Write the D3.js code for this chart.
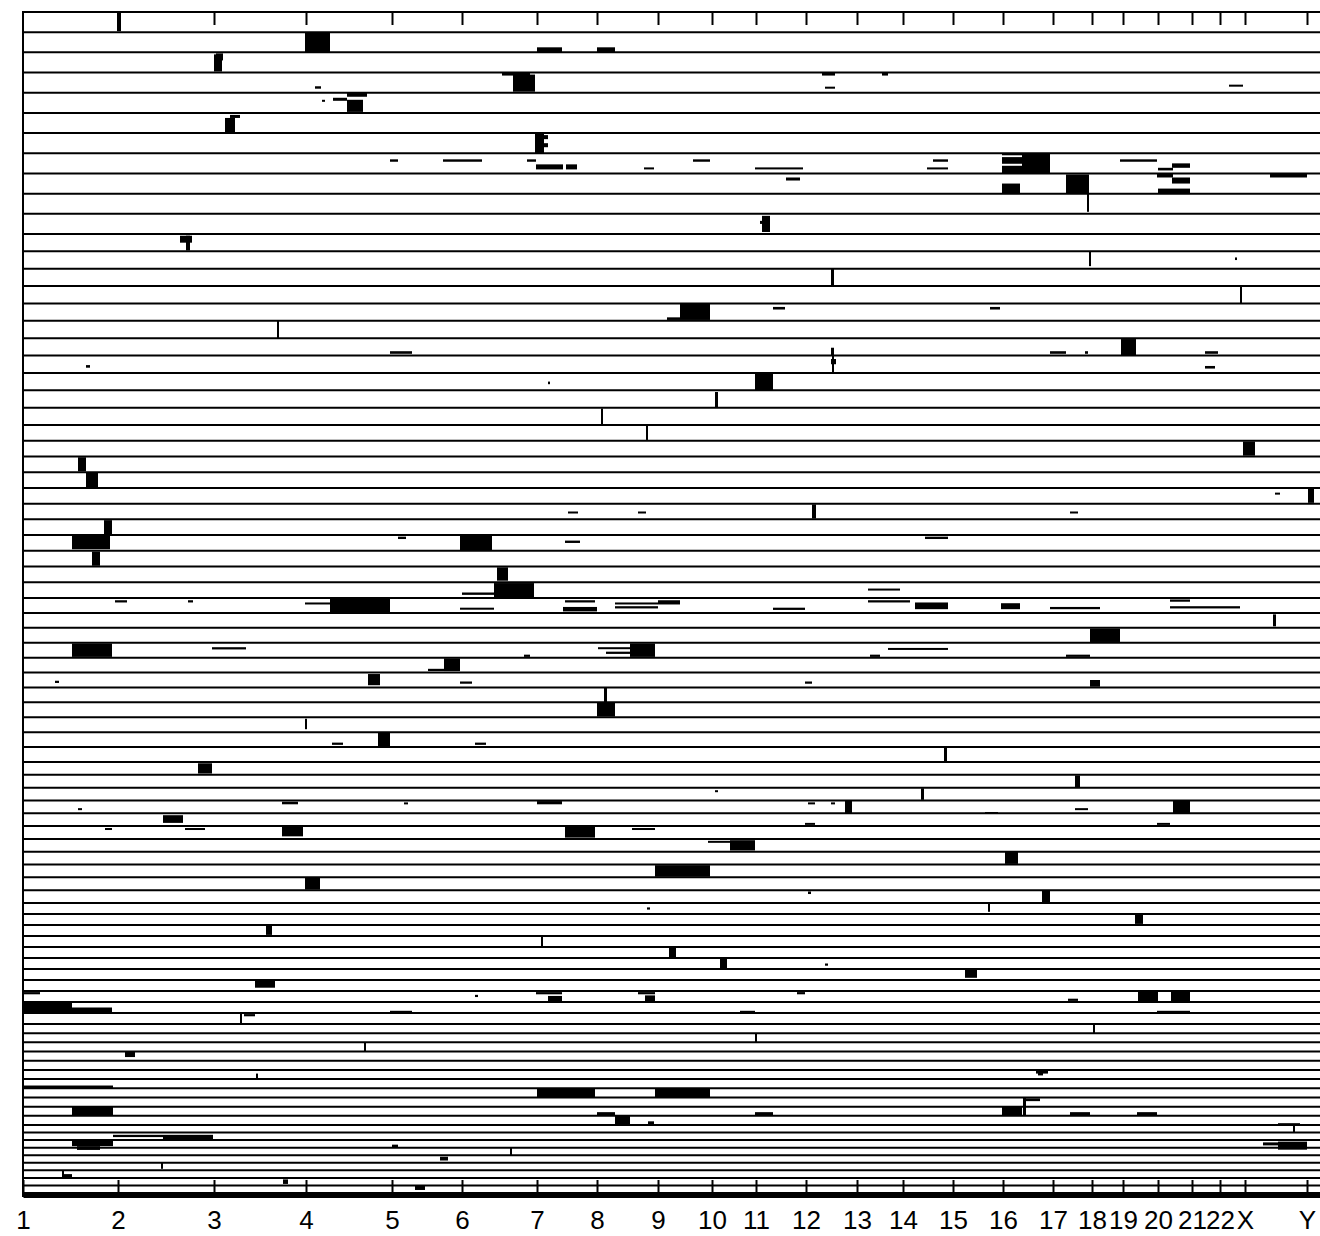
<!DOCTYPE html>
<html>
<head>
<meta charset="utf-8">
<script src="https://d3js.org/d3.v7.min.js"></script>
<style>
  body { margin: 0; background: #fff; }
  svg text { font-family: "Liberation Sans", Arial, sans-serif; }
</style>
</head>
<body>
<script>
// chromosomes and their widths (marker units) along the genome axis
const chromosomes = ["1","2","3","4","5","6","7","8","9","10","11","12","13","14","15","16","17","18","19","20","21","22","X","Y"];
const chromLengths = [95,96,92,86,70,75,60,61,54,44,50,51,46,50,50,50,39,31,35,34,28,25,62,26];

// number of samples (one horizontal track each)
const sampleCount = 86;

// segments: [sample, start, end, bandFrom, bandTo]  (start/end in genome units, band 0 = top of track, 1 = bottom)
const segments = [
  [0,94,98,0.05,0.95],
  [1,282,307,0,1],[1,514,539,0.75,1],[1,574,592,0.75,1],
  [2,191,199,0.1,0.95],[2,193,200,0.05,0.4],
  [3,479,507,0,0.15],[3,490,512,0.1,0.95],[3,799,812,0,0.15],[3,802,812,0.7,0.8],[3,859,865,0,0.15],[3,1206,1220,0.6,0.7],[3,292,298,0.68,0.8],
  [4,324,344,0,0.2],[4,310,324,0.25,0.4],[4,324,340,0.35,0.95],[4,299,302,0.35,0.45],
  [5,207,217,0.1,0.25],[5,202,212,0.25,1],
  [6,512,521,0,1],[6,521,525,0.1,0.3],[6,521,525,0.5,0.7],
  [7,367,375,0.3,0.42],[7,420,459,0.3,0.42],[7,504,513,0.3,0.42],[7,513,540,0.55,0.8],[7,543,554,0.55,0.8],
  [7,621,631,0.7,0.8],[7,670,687,0.3,0.42],[7,732,780,0.7,0.8],[7,910,925,0.3,0.42],[7,904,925,0.7,0.8],
  [7,999,1027,0,1],[7,979,999,0,0.1],[7,979,999,0.19,0.52],[7,979,999,0.62,1],
  [7,1097,1134,0.3,0.42],[7,1149,1167,0.5,0.72],[7,1135,1150,0.72,0.85],
  [8,1134,1150,0,0.2],[8,1149,1167,0.2,0.5],[8,1135,1167,0.75,1],[8,979,997,0.5,1],[8,1043,1066,0.05,1],
  [8,1247,1284,0,0.2],[8,763,777,0.2,0.35],
  [9,1064,1066,0,0.9],
  [10,739,747,0.1,0.9],[10,737,745,0.35,0.5],
  [11,157,169,0.1,0.5],[11,163,167,0.1,0.95],
  [12,1066,1068,0,0.85],[12,1212,1214,0.35,0.5],
  [13,808,811,0,1],
  [14,1217,1219,0,1],
  [15,657,687,0,0.95],[15,644,657,0.8,0.95],[15,750,762,0.2,0.35],[15,967,977,0.2,0.35],
  [16,254,256,0,1],
  [17,1098,1113,0.05,1],[17,367,389,0.75,0.9],[17,1027,1043,0.75,0.9],[17,1062,1065,0.75,0.9],[17,1182,1195,0.75,0.9],[17,808,811,0.55,1],
  [18,809,811,0,1],[18,808,813,0.2,0.5],[18,63,67,0.55,0.7],[18,1182,1192,0.6,0.75],
  [19,732,750,0.05,1],[19,525,527,0.5,0.65],
  [20,692,695,0.1,1],
  [21,578,580,0.05,0.95],
  [22,623,625,0.05,0.95],
  [23,1220,1232,0.05,0.95],
  [24,55,63,0.05,0.95],
  [25,63,75,0.05,0.95],
  [26,1252,1257,0.3,0.4],[26,1285,1291,0.05,0.95],
  [27,545,555,0.5,0.6],[27,615,623,0.5,0.6],[27,789,793,0.05,0.95],[27,1047,1055,0.5,0.6],
  [28,81,89,0.05,0.95],
  [29,49,87,0.05,0.9],[29,437,469,0.05,0.95],[29,375,383,0.1,0.25],[29,542,557,0.35,0.5],[29,902,925,0.1,0.25],
  [30,69,77,0.05,0.95],
  [31,474,485,0.05,0.9],
  [32,471,511,0.05,0.95],[32,439,471,0.65,0.8],[32,845,877,0.4,0.5],
  [33,307,367,0.05,0.95],[33,282,307,0.3,0.4],[33,92,104,0.15,0.3],[33,165,170,0.15,0.3],[33,437,471,0.65,0.75],
  [33,542,572,0.15,0.3],[33,540,574,0.6,0.9],[33,592,657,0.3,0.4],[33,592,635,0.55,0.7],[33,635,657,0.15,0.35],
  [33,750,782,0.65,0.8],[33,845,887,0.15,0.3],[33,892,925,0.3,0.75],[33,978,997,0.35,0.75],[33,1027,1077,0.6,0.75],
  [33,1147,1167,0.1,0.25],[33,1147,1217,0.55,0.7],
  [34,1250,1253,0.1,0.9],
  [35,1067,1097,0.05,0.95],
  [36,49,89,0.05,0.95],[36,189,223,0.3,0.45],[36,607,632,0.05,0.95],[36,575,607,0.3,0.42],[36,583,607,0.6,0.75],
  [36,501,507,0.8,0.95],[36,847,857,0.8,0.95],[36,865,925,0.35,0.48],[36,1043,1067,0.8,0.95],
  [37,421,437,0.05,0.9],[37,405,437,0.75,0.9],
  [38,345,357,0.1,0.85],[38,437,449,0.6,0.75],[38,32,36,0.55,0.7],[38,782,789,0.6,0.75],[38,1067,1077,0.5,0.95],
  [39,581,584,0,1],
  [40,574,592,0,0.95],
  [41,282,284,0.1,0.8],
  [42,309,320,0.7,0.85],[42,355,367,0.05,0.95],[42,452,463,0.7,0.85],
  [43,921,924,0.05,0.95],
  [44,175,189,0.1,0.9],
  [45,1052,1057,0.05,0.95],
  [46,898,901,0.05,0.95],[46,692,695,0.2,0.35],
  [47,55,59,0.6,0.75],[47,259,275,0.1,0.3],[47,381,385,0.15,0.3],[47,514,539,0.05,0.3],[47,785,792,0.15,0.3],
  [47,808,812,0.15,0.3],[47,822,829,0,1],[47,962,975,0.9,1],[47,1052,1065,0.6,0.75],[47,1150,1167,0,1],
  [48,140,160,0.15,0.75],[48,782,792,0.75,0.9],[48,1134,1147,0.75,0.9],
  [49,162,182,0.15,0.3],[49,82,89,0.15,0.3],[49,259,280,0,0.8],[49,542,572,0,0.9],[49,609,632,0.15,0.3],
  [50,707,732,0.1,0.9],[50,685,707,0.15,0.3],
  [51,982,995,0,0.95],
  [52,632,687,0.05,0.95],
  [53,282,297,0.05,0.95],
  [54,1019,1027,0.05,0.95],[54,785,788,0.1,0.3],
  [55,965,967,0,0.8],[55,624,627,0.4,0.6],
  [56,1112,1120,0.05,0.9],
  [57,243,249,0,0.9],
  [58,518,520,0,1],
  [59,646,653,0.05,0.95],
  [60,697,704,0,0.95],[60,802,805,0.5,0.7],
  [61,942,954,0,0.8],
  [62,232,252,0,0.7],
  [63,774,782,0.1,0.3],[63,513,539,0.1,0.3],[63,615,632,0.1,0.3],[63,452,455,0.35,0.55],[63,1045,1055,0.7,0.9],
  [63,525,539,0.45,0.95],[63,622,632,0.4,0.95],[63,1115,1135,0.05,0.95],[63,1148,1167,0.05,0.95],[63,1,17,0.1,0.3],
  [64,0,49,0,1],[64,49,89,0.5,1],[64,367,389,0.8,1],[64,717,732,0.8,1],[64,1134,1167,0.8,1],
  [65,217,219,0,1],[65,221,232,0.1,0.3],
  [66,1070,1072,0,1],
  [67,732,734,0,1],
  [68,341,343,0,1],
  [69,102,112,0,0.6],
  [71,1013,1025,0.1,0.4],[71,1015,1020,0,0.6],[71,233,235,0.4,1],
  [72,0,90,0.7,1],
  [73,514,572,0,1],[73,632,687,0,1],
  [74,1000,1017,0.1,0.4],[74,1000,1003,0,1],
  [75,49,90,0,1],[75,979,999,0,1],[75,1000,1003,0,1],[75,574,592,0.6,1],[75,732,750,0.6,1],[75,1047,1067,0.6,1],[75,1114,1134,0.6,1],
  [76,592,607,0,0.95],[76,625,631,0.6,1],[76,1255,1277,0.8,1],
  [77,1270,1272,0,1],
  [78,90,140,0.3,0.6],[78,140,190,0.3,1],
  [79,49,90,0,0.8],[79,54,77,0.8,1],[79,1255,1284,0.2,1],[79,1240,1255,0.3,0.7],[79,369,375,0.6,1],
  [80,54,77,0,0.3],[80,1255,1284,0,0.2],[80,487,489,0,1],
  [81,417,425,0.2,0.7],
  [82,138,140,0,0.8],
  [83,39,41,0,1],[83,39,49,0.5,1],
  [84,260,265,0.2,0.8],
  [85,392,402,0,0.6]
];

// layout
const svg = d3.select("body").append("svg")
  .attr("width", 1320)
  .attr("height", 1236);

const chromStarts = d3.cumsum([0].concat(chromLengths)).slice(0, chromLengths.length);
const genomeLength = d3.sum(chromLengths);

const x = d3.scaleLinear()
  .domain([0, genomeLength])
  .range([23, 23 + genomeLength]);

// tracks get gradually thinner towards the bottom of the figure
const y = d3.scaleLinear()
  .domain([0, 11, 22, 33, 44, 55, 66, 77, sampleCount])
  .range([12, 234, 425, 598, 762, 903, 1024, 1125, 1193]);

// segments
svg.append("g")
  .selectAll("rect")
  .data(segments)
  .join("rect")
  .attr("x", d => x(d[1]))
  .attr("width", d => Math.max(2, x(d[2]) - x(d[1])))
  .attr("y", d => y(d[0] + d[3]))
  .attr("height", d => Math.max(2, y(d[0] + d[4]) - y(d[0] + d[3])))
  .attr("fill", "#000");

// track separators
svg.append("g")
  .selectAll("line")
  .data(d3.range(0, sampleCount + 1))
  .join("line")
  .attr("x1", x(0))
  .attr("x2", x(genomeLength))
  .attr("y1", d => y(d))
  .attr("y2", d => y(d))
  .attr("stroke", "#000")
  .attr("stroke-width", 2);

// left border
svg.append("line")
  .attr("x1", x(0)).attr("x2", x(0))
  .attr("y1", y(0) - 1).attr("y2", y(sampleCount) + 4)
  .attr("stroke", "#000")
  .attr("stroke-width", 2);

// top axis: chromosome boundaries
const topAxis = svg.append("g")
  .attr("transform", `translate(0,${y(0)})`)
  .call(d3.axisTop(x).tickValues(chromStarts.slice(1)).tickSize(-13).tickFormat(""));
topAxis.select(".domain").remove();
topAxis.selectAll(".tick line").attr("stroke", "#000").attr("stroke-width", 2);

// bottom axis with chromosome names
const bottomAxis = svg.append("g")
  .attr("transform", `translate(0,${y(sampleCount) + 2})`)
  .call(d3.axisBottom(x)
    .tickValues(chromStarts)
    .tickSize(-15)
    .tickSizeOuter(0)
    .tickPadding(16)
    .tickFormat((d, i) => chromosomes[i]));
bottomAxis.select(".domain").attr("stroke", "#000").attr("stroke-width", 5);
bottomAxis.selectAll(".tick line").attr("stroke", "#000").attr("stroke-width", 2);
bottomAxis.selectAll(".tick text")
  .attr("fill", "#000")
  .attr("font-size", 26)
  .attr("font-family", "Liberation Sans, Arial, sans-serif");
</script>
</body>
</html>
